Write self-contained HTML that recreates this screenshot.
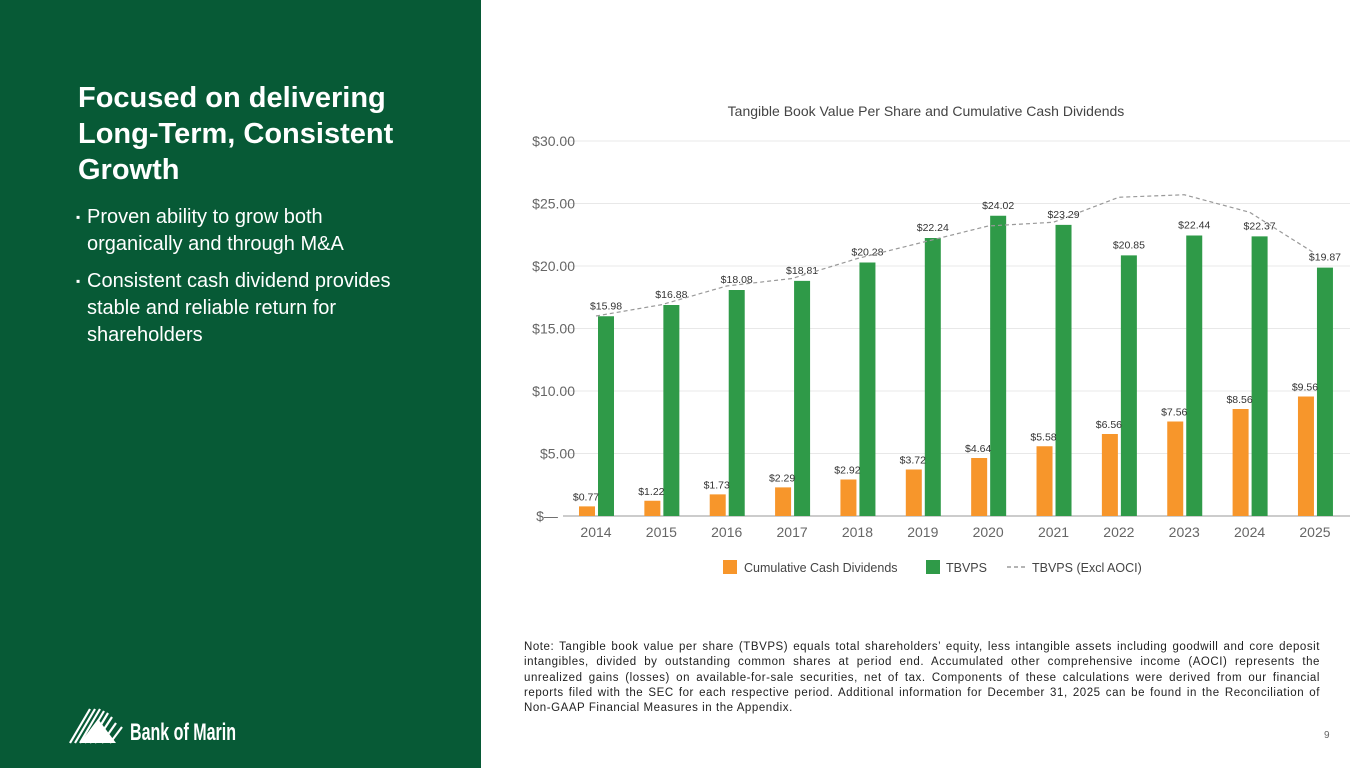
<!DOCTYPE html>
<html><head><meta charset="utf-8">
<style>
body{margin:0;width:1365px;height:768px;overflow:hidden;background:#fff;font-family:"Liberation Sans",sans-serif;position:relative}
#panel{position:absolute;left:0;top:0;width:481px;height:768px;background:#075a36}
#title{position:absolute;left:78px;top:80px;color:#fff;font-weight:bold;font-size:29px;line-height:36px}
ul{position:absolute;left:78px;top:204px;margin:0;padding:0;list-style:none;color:#fff;font-size:20px;line-height:27px;width:330px}
li{position:relative;padding-left:9px;margin-bottom:10px}
li:before{content:"▪";position:absolute;left:-2px;top:0;font-size:12px}
#note{position:absolute;left:524px;top:640px;width:796px;font-size:11.5px;letter-spacing:0.55px;line-height:15.3px;color:#222;text-align:justify}
#pg{position:absolute;left:1324px;top:730px;font-size:10px;color:#666}
#logo{position:absolute;left:68px;top:703px}
</style></head><body>
<div id="panel"></div>
<div id="title">Focused on delivering<br>Long-Term, Consistent<br>Growth</div>
<ul>
<li>Proven ability to grow both organically and through M&amp;A</li>
<li>Consistent cash dividend provides stable and reliable return for shareholders</li>
</ul>
<svg id="logo" width="175" height="42">
<g stroke="#fff" stroke-width="2.2">
<line x1="2" y1="40" x2="22" y2="6"/><line x1="7" y1="40" x2="27" y2="6"/><line x1="12" y1="40" x2="32" y2="6"/><line x1="17" y1="40" x2="36" y2="8"/><line x1="22" y1="40" x2="40" y2="10"/><line x1="27" y1="40" x2="44" y2="14"/><line x1="34" y1="40" x2="48" y2="20"/><line x1="42" y1="40" x2="54" y2="24"/>
</g>
<polygon points="12,40 30,16 48,40" fill="#fff"/>
<text x="62" y="37" fill="#fff" font-size="24" font-weight="bold" font-family="Liberation Sans Narrow, Liberation Sans, sans-serif" textLength="106" lengthAdjust="spacingAndGlyphs">Bank of Marin</text>
</svg>
<svg id="chart" width="1365" height="768" style="position:absolute;left:0;top:0"></svg>
<div id="note">Note: Tangible book value per share (TBVPS) equals total shareholders’ equity, less intangible assets including goodwill and core deposit intangibles, divided by outstanding common shares at period end. Accumulated other comprehensive income (AOCI) represents the unrealized gains (losses) on available-for-sale securities, net of tax. Components of these calculations were derived from our financial reports filed with the SEC for each respective period. Additional information for December 31, 2025 can be found in the Reconciliation of Non-GAAP Financial Measures in the Appendix.</div>
<div id="pg">9</div>
<script>
const years=["2014","2015","2016","2017","2018","2019","2020","2021","2022","2023","2024","2025"];
const dividends=[0.77,1.22,1.73,2.29,2.92,3.72,4.64,5.58,6.56,7.56,8.56,9.56];
const tbvps=[15.98,16.88,18.08,18.81,20.28,22.24,24.02,23.29,20.85,22.44,22.37,19.87];
const exclAoci=[16.0,16.9,18.4,19.0,20.6,21.9,23.2,23.5,25.5,25.7,24.3,21.0];
const yTicks=[0,5,10,15,20,25,30];
const yTickLabels=["$—","$5.00","$10.00","$15.00","$20.00","$25.00","$30.00"];
const NS="http://www.w3.org/2000/svg";
const svg=document.getElementById('chart');
const y0=516,pxPer=12.5,x0=596,step=65.36;
const Y=v=>y0-v*pxPer, X=i=>x0+i*step;
function mk(t,a,txt){const e=document.createElementNS(NS,t);for(const k in a)e.setAttribute(k,a[k]);if(txt!=null)e.textContent=txt;svg.appendChild(e);return e;}
let e=mk('text',{x:926,y:116,'text-anchor':'middle','font-size':14,fill:'#444'},"Tangible Book Value Per Share and Cumulative Cash Dividends");


yTicks.forEach((t,i)=>{
 let l=mk('line',{x1:563,x2:1350,y1:Y(t),y2:Y(t),stroke:i==0?'#bbb':'#e8e8e8','stroke-width':i==0?1.5:1});
 
 
 let tx=mk('text',{x:i==0?547:575,y:Y(t)+5,'text-anchor':i==0?'middle':'end','font-size':14,fill:'#666'},yTickLabels[i]);
 
 
});
years.forEach((yr,i)=>{
 const c=X(i);
 let b=mk('rect',{x:c-17,y:Y(dividends[i]),width:16,height:dividends[i]*pxPer,fill:'#f7962b'});
 
 
 let g=mk('rect',{x:c+2,y:Y(tbvps[i]),width:16,height:tbvps[i]*pxPer,fill:'#2f9a48'});
 
 
 let l1=mk('text',{x:c-10,y:Y(dividends[i])-6,'text-anchor':'middle','font-size':10.5,fill:'#333'},"$"+dividends[i].toFixed(2));
 
 
 let l2=mk('text',{x:c+10,y:Y(tbvps[i])-7,'text-anchor':'middle','font-size':10.5,fill:'#333'},"$"+tbvps[i].toFixed(2));
 
 
 let xl=mk('text',{x:c,y:537,'text-anchor':'middle','font-size':14,fill:'#666'},yr);
 
 
});
let p=mk('polyline',{points:exclAoci.map((v,i)=>X(i)+','+Y(v)).join(' '),fill:'none',stroke:'#999','stroke-width':1.2,'stroke-dasharray':'4,3'});


let r1=mk('rect',{x:723,y:560,width:14,height:14,fill:'#f7962b'});


let t1=mk('text',{x:744,y:572,'font-size':12.5,fill:'#444'},"Cumulative Cash Dividends");


let r2=mk('rect',{x:926,y:560,width:14,height:14,fill:'#2f9a48'});


let t2=mk('text',{x:946,y:572,'font-size':12.5,fill:'#444'},"TBVPS");


let r3=mk('line',{x1:1007,x2:1027,y1:567,y2:567,stroke:'#888','stroke-width':1.2,'stroke-dasharray':'4,3'});


let t3=mk('text',{x:1032,y:572,'font-size':12.5,fill:'#444'},"TBVPS (Excl AOCI)");


</script>
</body></html>
